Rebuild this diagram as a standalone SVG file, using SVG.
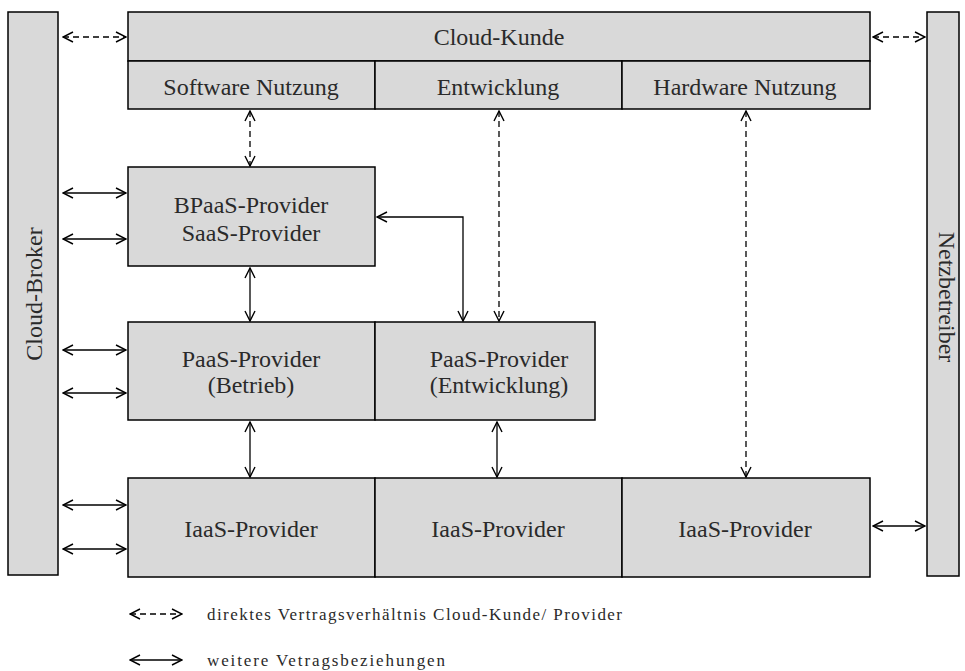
<svg xmlns="http://www.w3.org/2000/svg" width="965" height="671" viewBox="0 0 965 671">
<style>
.box{fill:#d9d9d9;stroke:#000;stroke-width:1.5}
.t{font-family:"Liberation Serif","Times New Roman","DejaVu Serif",serif;font-size:24px;fill:#2a2a2a;text-anchor:middle}
.lg{font-family:"Liberation Serif","Times New Roman","DejaVu Serif",serif;font-size:17px;fill:#2a2a2a}
.c{fill:none;stroke:#000;stroke-width:1.3;marker-start:url(#ah);marker-end:url(#ah)}
.d{stroke-dasharray:6,4}
</style>
<defs>
<marker id="ah" viewBox="0 0 12 12" refX="11" refY="6" markerWidth="12" markerHeight="12" markerUnits="userSpaceOnUse" orient="auto-start-reverse">
<path d="M1,1 L11,6 L1,11" fill="none" stroke="#000" stroke-width="1.4"/>
</marker>
</defs>
<g id="cloud-broker">
<rect class="box" x="8" y="12" width="50" height="563"/>
<text class="t" transform="translate(42,294) rotate(-90)">Cloud-Broker</text>
</g>
<g id="netzbetreiber">
<rect class="box" x="927" y="12" width="32" height="564"/>
<text class="t" transform="translate(939,297) rotate(90)">Netzbetreiber</text>
</g>
<g id="cloud-kunde">
<rect class="box" x="128" y="12" width="742" height="49"/>
<text class="t" x="499" y="45">Cloud-Kunde</text>
</g>
<g id="software-nutzung">
<rect class="box" x="128" y="61" width="247" height="48"/>
<text class="t" x="251" y="95">Software Nutzung</text>
</g>
<g id="entwicklung">
<rect class="box" x="375" y="61" width="247" height="48"/>
<text class="t" x="498" y="95">Entwicklung</text>
</g>
<g id="hardware-nutzung">
<rect class="box" x="622" y="61" width="248" height="48"/>
<text class="t" x="745" y="95">Hardware Nutzung</text>
</g>
<g id="bpaas">
<rect class="box" x="128" y="167" width="247" height="99"/>
<text class="t" x="251" y="213">BPaaS-Provider</text>
<text class="t" x="251" y="241">SaaS-Provider</text>
</g>
<g id="paas-betrieb">
<rect class="box" x="128" y="322" width="247" height="98"/>
<text class="t" x="251" y="367">PaaS-Provider</text>
<text class="t" x="251" y="393">(Betrieb)</text>
</g>
<g id="paas-entwicklung">
<rect class="box" x="375" y="322" width="220" height="98"/>
<text class="t" x="499" y="367">PaaS-Provider</text>
<text class="t" x="499" y="393">(Entwicklung)</text>
</g>
<g id="iaas-1">
<rect class="box" x="128" y="478" width="247" height="99"/>
<text class="t" x="251" y="537">IaaS-Provider</text>
</g>
<g id="iaas-2">
<rect class="box" x="375" y="478" width="247" height="99"/>
<text class="t" x="498" y="537">IaaS-Provider</text>
</g>
<g id="iaas-3">
<rect class="box" x="622" y="478" width="248" height="99"/>
<text class="t" x="745" y="537">IaaS-Provider</text>
</g>
<g id="connectors">
<line class="c d" x1="63" y1="37" x2="126" y2="37"/>
<line class="c d" x1="873" y1="37" x2="925" y2="37"/>
<line class="c d" x1="250" y1="111" x2="250" y2="166"/>
<line class="c d" x1="499" y1="111" x2="499" y2="321"/>
<line class="c d" x1="746" y1="111" x2="746" y2="477"/>
<line class="c" x1="63" y1="193" x2="126" y2="193"/>
<line class="c" x1="63" y1="239" x2="126" y2="239"/>
<line class="c" x1="63" y1="350" x2="126" y2="350"/>
<line class="c" x1="63" y1="393" x2="126" y2="393"/>
<line class="c" x1="63" y1="505" x2="126" y2="505"/>
<line class="c" x1="63" y1="549" x2="126" y2="549"/>
<line class="c" x1="873" y1="526" x2="925" y2="526"/>
<line class="c" x1="250" y1="268" x2="250" y2="321"/>
<line class="c" x1="250" y1="422" x2="250" y2="477"/>
<line class="c" x1="497" y1="422" x2="497" y2="477"/>
<polyline class="c" points="377,217 463,217 463,321"/>
</g>
<g id="legend">
<line class="c d" x1="130" y1="614" x2="182" y2="614"/>
<text class="lg" x="207" y="620" textLength="415" lengthAdjust="spacing">direktes Vertragsverhältnis Cloud-Kunde/ Provider</text>
<line class="c" x1="130" y1="660" x2="182" y2="660"/>
<text class="lg" x="207" y="666" textLength="238" lengthAdjust="spacing">weitere Vetragsbeziehungen</text>
</g>
</svg>
